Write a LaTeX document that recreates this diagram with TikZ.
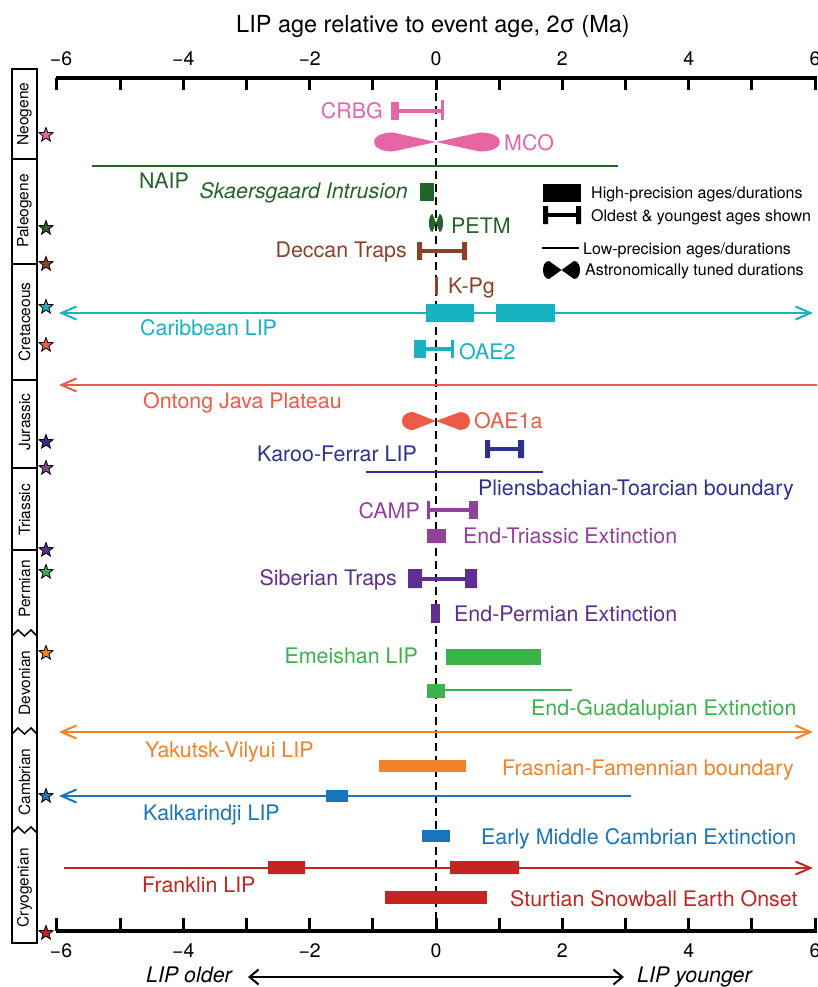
\documentclass[tikz,border=0pt]{standalone}
\usepackage{fontspec}
\setmainfont{TeX Gyre Heros}
\usetikzlibrary{arrows.meta, shapes.geometric}

\definecolor{cpink}{RGB}{231,100,165}
\definecolor{cdkgreen}{RGB}{35,100,40}
\definecolor{cbrown}{RGB}{139,66,36}
\definecolor{ccyan}{RGB}{24,178,192}
\definecolor{cred}{RGB}{238,90,70}
\definecolor{cnavy}{RGB}{46,49,146}
\definecolor{cpurple}{RGB}{145,65,155}
\definecolor{cdkpurple}{RGB}{96,45,145}
\definecolor{cgreen}{RGB}{60,178,74}
\definecolor{corange}{RGB}{243,130,40}
\definecolor{cblue}{RGB}{25,117,190}
\definecolor{cfrank}{RGB}{196,37,32}

% astronomically tuned duration: y, left ctrl, left max, centre, right max, right ctrl, half height
\newcommand{\tuned}[7]{%
  \fill (#4,#1) -- (#3,#1-#7) .. controls (#2,#1-#7) and (#2,#1+#7) .. (#3,#1+#7) -- cycle;
  \fill (#4,#1) -- (#5,#1-#7) .. controls (#6,#1-#7) and (#6,#1+#7) .. (#5,#1+#7) -- cycle;}

\begin{document}
\begin{tikzpicture}[
	x=1pt, y=-1pt,
	lbl/.style={anchor=base west, inner sep=0pt, font=\fontsize{21.4}{24}\selectfont},
	lblr/.style={anchor=base east, inner sep=0pt, font=\fontsize{21.4}{24}\selectfont},
	key/.style={anchor=base west, inner sep=0pt, font=\fontsize{16}{19}\selectfont},
	era/.style={rotate=90, inner sep=0pt, font=\fontsize{15.5}{18}\selectfont},
	num/.style={anchor=base, inner sep=0pt, font=\fontsize{19.5}{22}\selectfont},
	fmark/.style={star, star points=5, star point ratio=2.4, draw=black, line width=0.8pt, minimum size=15pt, inner sep=0pt},
	axtick/.style={line width=3pt},
	thinline/.style={line width=2pt},
	barline/.style={line width=4pt},
	endtick/.style={line width=3pt},
	barb/.style={{Straight Barb[length=15pt, width=13pt]}-{Straight Barb[length=15pt, width=13pt]}},
	lbarb/.style={{Straight Barb[length=15pt, width=13pt]}-},
	rbarb/.style={-{Straight Barb[length=15pt, width=13pt]}}
]
	\useasboundingbox (0,0) rectangle (817,987);

	% title and axes
	\node[anchor=base west, inner sep=0pt, font=\fontsize{23.5}{27}\selectfont] (title) at (236,33) {LIP age relative to event age, 2σ (Ma)};
	\draw[line width=4pt] (55.5,78) -- (817,78);
	\draw[line width=4pt] (55.5,931) -- (817,931);
	\foreach \t in {-6,...,6} {
		\draw[axtick] ({436+63.17*\t},78) -- ++(0,12);
		\draw[axtick] ({436+63.17*\t},931) -- ++(0,-13);
	}
	\foreach \v/\p [count=\i] in {{−6}/61, {−4}/183.3, {−2}/309.7, 0/436, 2/562.3, 4/688.7, 6/815} {
		\node[num] (top\i) at (\p,66) {\v};
		\node[num] (bot\i) at (\p,957) {\v};
	}
	\draw[line width=2.5pt, dash pattern=on 8pt off 5pt] (436,80) -- (436,929);

	% geological column
	\draw[line width=1.5pt] (12,69) rectangle (37,943);
	\foreach \b in {159,264,380,468,550}
		\draw[line width=1.5pt] (12,\b) -- (37,\b);
	\foreach \b in {633,731,830}
		\draw[line width=1.5pt] (12,\b+3) -- (18,\b-3) -- (24.5,\b+3) -- (31,\b-3) -- (37,\b+3);
	\node[era] (neo) at (24.5,114) {Neogene};
	\node[era] (pal) at (24.5,211) {Paleogene};
	\node[era] (cre) at (24.5,322) {Cretaceous};
	\node[era] (jur) at (24.5,422) {Jurassic};
	\node[era] (tri) at (24.5,510) {Triassic};
	\node[era] (per) at (24.5,589) {Permian};
	\node[era] (dev) at (24.5,683) {Devonian};
	\node[era] (cam) at (24.5,782) {Cambrian};
	\node[era] (cry) at (24.5,888) {Cryogenian};

	% stars
	\foreach \c/\y [count=\i] in {cpink/135, cdkgreen/228, cbrown/264, ccyan/307, cred/345, cnavy/442, cpurple/468, cdkpurple/550, cgreen/572, corange/653, cblue/796, cfrank/933}
		\node[fmark, fill=\c] (star\i) at (46,\y) {};

	% legend
	\fill (543,184) rectangle (581,202);
	\fill (543,206) rectangle (548,224) (576,206) rectangle (581,224);
	\draw[barline] (548,215) -- (576,215);
	\draw[thinline] (542,248) -- (579,248);
	\tuned{270}{541}{549}{561.5}{574}{582}{9}
	\node[key] (key1) at (591,199) {High-precision ages/durations};
	\node[key] (key2) at (591,222) {Oldest \& youngest ages shown};
	\node[key] (key3) at (583,254) {Low-precision ages/durations};
	\node[key] (key4) at (585,275) {Astronomically tuned durations};

	% Neogene
	\begin{scope}[cpink]
		\fill (391,102) rectangle (399,120);
		\draw[barline] (399,111) -- (442,111);
		\draw[endtick] (442,100) -- (442,120);
		\tuned{142}{367.7}{393}{436}{480}{506.7}{9.5}
		\node[lblr, text=cpink] (crbg) at (383,119) {CRBG};
		\node[lbl, text=cpink] (mco) at (504,151) {MCO};
	\end{scope}

	% Paleogene
	\begin{scope}[cdkgreen]
		\draw[thinline] (92,166) -- (618,166);
		\fill (420,183) rectangle (434,201);
		\tuned{223}{427.8}{432.5}{436}{439.5}{444.2}{9}
		\node[lbl, text=cdkgreen] (naip) at (139,189) {NAIP};
		\node[lblr, text=cdkgreen, font=\fontsize{21.4}{24}\selectfont\itshape] (skae) at (408,199) {Skaersgaard Intrusion};
		\node[lbl, text=cdkgreen] (petm) at (451,233) {PETM};
	\end{scope}
	\begin{scope}[cbrown]
		\fill (417,242) rectangle (422,260) (462,242) rectangle (467,260);
		\draw[barline] (422,251) -- (462,251);
		\fill (434.5,277) rectangle (437.5,295);
		\node[lblr, text=cbrown] (deccan) at (407,257) {Deccan Traps};
		\node[lbl, text=cbrown] (kpg) at (448,293) {K-Pg};
	\end{scope}

	% Cretaceous
	\begin{scope}[ccyan]
		\draw[thinline, barb] (59,313) -- (813,313);
		\fill (426,304) rectangle (474,322) (496,304) rectangle (555,322);
		\fill (414,340) rectangle (426,358);
		\draw[barline] (426,349) -- (452,349);
		\draw[endtick] (452,340) -- (452,358);
		\node[lbl, text=ccyan] (carib) at (140,335) {Caribbean LIP};
		\node[lbl, text=ccyan] (oae2) at (459,359) {OAE2};
	\end{scope}
	\begin{scope}[cred]
		\draw[thinline, lbarb] (59,385) -- (817,385);
		\tuned{421}{398.3}{413}{436}{460}{473.3}{9}
		\node[lbl, text=cred] (ojp) at (143,408) {Ontong Java Plateau};
		\node[lbl, text=cred] (oae1a) at (474,428) {OAE1a};
	\end{scope}

	% Jurassic
	\begin{scope}[cnavy]
		\fill (485,440) rectangle (490,458) (518,440) rectangle (524,458);
		\draw[barline] (490,449) -- (518,449);
		\draw[thinline] (366,472) -- (543,472);
		\node[lblr, text=cnavy] (karoo) at (417,461) {Karoo-Ferrar LIP};
		\node[lbl, text=cnavy] (pliens) at (478,495) {Pliensbachian-Toarcian boundary};
	\end{scope}

	% Triassic
	\begin{scope}[cpurple]
		\draw[endtick] (428.5,501) -- (428.5,519);
		\draw[barline] (428.5,510) -- (469,510);
		\fill (469,501) rectangle (478,519);
		\fill (427,529) rectangle (446,543);
		\node[lblr, text=cpurple] (camp) at (420,518) {CAMP};
		\node[lbl, text=cpurple] (etex) at (463,543) {End-Triassic Extinction};
	\end{scope}

	% Permian
	\begin{scope}[cdkpurple]
		\fill (408,569) rectangle (422,588) (465,569) rectangle (477,588);
		\draw[barline] (422,579) -- (465,579);
		\fill (431,604) rectangle (440,623);
		\node[lblr, text=cdkpurple] (sib) at (397,585) {Siberian Traps};
		\node[lbl, text=cdkpurple] (epex) at (454,621) {End-Permian Extinction};
	\end{scope}
	\begin{scope}[cgreen]
		\fill (446,649) rectangle (541,665);
		\fill (427,684) rectangle (445,698);
		\draw[thinline] (445,690) -- (572,690);
		\node[lblr, text=cgreen] (emei) at (418,663) {Emeishan LIP};
		\node[lbl, text=cgreen] (egex) at (531,715) {End-Guadalupian Extinction};
	\end{scope}

	% Devonian
	\begin{scope}[corange]
		\draw[thinline, barb] (59,732) -- (813,732);
		\fill (379,760) rectangle (466,772);
		\node[lbl, text=corange] (yak) at (145,757) {Yakutsk-Vilyui LIP};
		\node[lbl, text=corange] (ffb) at (502,775) {Frasnian-Famennian boundary};
	\end{scope}

	% Cambrian
	\begin{scope}[cblue]
		\draw[thinline, lbarb] (59,796) -- (631,796);
		\fill (326,790) rectangle (348,802);
		\fill (422,830) rectangle (450,842);
		\node[lbl, text=cblue] (kalk) at (143,820) {Kalkarindji LIP};
		\node[lbl, text=cblue] (emce) at (481,844) {Early Middle Cambrian Extinction};
	\end{scope}

	% Cryogenian
	\begin{scope}[cfrank]
		\draw[thinline, rbarb] (64,868) -- (813,868);
		\fill (268,861) rectangle (305,874) (450,861) rectangle (519,874);
		\fill (385,891) rectangle (487,904);
		\node[lbl, text=cfrank] (frank) at (142,892) {Franklin LIP};
		\node[lbl, text=cfrank] (sturt) at (510,906) {Sturtian Snowball Earth Onset};
	\end{scope}

	% older / younger
	\node[lblr, font=\fontsize{21.4}{24}\selectfont\itshape] (older) at (232,982) {LIP older};
	\node[lbl, font=\fontsize{21.4}{24}\selectfont\itshape] (younger) at (637,982) {LIP younger};
	\draw[line width=2pt, {Straight Barb[length=9pt, width=15pt]}-{Straight Barb[length=9pt, width=15pt]}]
		([shift={(16,-5)}]older.base east) -- ([shift={(-13,-5)}]younger.base west);
\end{tikzpicture}
\end{document}
